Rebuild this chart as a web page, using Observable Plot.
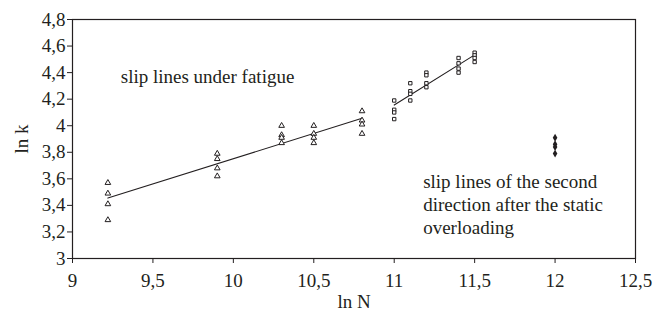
<!DOCTYPE html>
<html>
<head>
<meta charset="utf-8">
<script src="https://cdn.jsdelivr.net/npm/d3@7"></script>
<script src="https://cdn.jsdelivr.net/npm/@observablehq/plot@0.6"></script>
<style>
  html, body { margin: 0; padding: 0; background: #fff; }
</style>
</head>
<body>
<div id="chart"></div>
<script>
// Fatigue slip lines (triangles)
const triX = [9.22,9.22,9.22,9.22, 9.9,9.9,9.9,9.9, 10.3,10.3,10.3,10.3, 10.5,10.5,10.5,10.5, 10.8,10.8,10.8,10.8];
const triY = [3.57,3.49,3.41,3.29, 3.79,3.75,3.68,3.62, 4.00,3.93,3.91,3.87, 4.00,3.94,3.91,3.87, 4.11,4.04,4.01,3.94];
// Squares
const sqX = [11.0,11.0,11.0,11.0, 11.1,11.1,11.1,11.1, 11.2,11.2,11.2,11.2, 11.4,11.4,11.4,11.4, 11.5,11.5,11.5,11.5];
const sqY = [4.19,4.12,4.10,4.05, 4.32,4.26,4.24,4.19, 4.40,4.38,4.32,4.29, 4.51,4.47,4.43,4.40, 4.55,4.53,4.51,4.48];
// Second direction after static overloading (diamonds)
const diaX = [12, 12, 12, 12];
const diaY = [3.91, 3.86, 3.84, 3.79];
// Tick values
const xTicks = [9, 9.5, 10, 10.5, 11, 11.5, 12, 12.5];
const yTicks = [3, 3.2, 3.4, 3.6, 3.8, 4, 4.2, 4.4, 4.6, 4.8];
// Annotations
const noteText = ["slip lines under fatigue", "slip lines of the second\ndirection after the static\noverloading"];
const noteX = [9.30, 11.18];
const noteY = [4.38, 3.415];

const tri = triX.map((x, i) => ({x, y: triY[i]}));
const sq = sqX.map((x, i) => ({x, y: sqY[i]}));
const dia = diaX.map((x, i) => ({x, y: diaY[i]}));
const notes = noteText.map((t, i) => ({t, x: noteX[i], y: noteY[i]}));
const fmt = d => String(d).replace(".", ",");

const chart = Plot.plot({
  width: 654,
  height: 313,
  marginLeft: 72,
  marginRight: 19,
  marginTop: 19,
  marginBottom: 55,
  style: {fontFamily: "'Liberation Serif', 'DejaVu Serif', serif", fontSize: "19px", color: "#231f20", background: "#fff"},
  x: {domain: [9, 12.5]},
  y: {domain: [3, 4.8]},
  marks: [
    Plot.frame({stroke: "#231f20", strokeWidth: 1.2}),
    Plot.axisX({ticks: xTicks, tickFormat: fmt, tickSize: 5, tickPadding: 10, fontSize: 19,
      label: "ln N", labelAnchor: "center", labelArrow: "none", labelOffset: 49}),
    Plot.axisY({ticks: yTicks, tickFormat: fmt, tickSize: 5, tickPadding: 2, fontSize: 19,
      label: "ln k", labelAnchor: "center", labelArrow: "none", labelOffset: 58}),
    Plot.linearRegressionY(tri, {x: "x", y: "y", stroke: "#231f20", strokeWidth: 1.1, ci: 0}),
    Plot.linearRegressionY(sq, {x: "x", y: "y", stroke: "#231f20", strokeWidth: 1.1, ci: 0}),
    Plot.dot(tri, {x: "x", y: "y", symbol: "triangle", r: 2.1, stroke: "#231f20", fill: "white", strokeWidth: 1}),
    Plot.dot(sq, {x: "x", y: "y", symbol: "square", r: 1.9, stroke: "#231f20", fill: "white", strokeWidth: 1}),
    Plot.dot(dia, {x: "x", y: "y", symbol: "diamond", r: 2.4, fill: "#231f20", stroke: "none"}),
    Plot.text(notes, {x: "x", y: "y", text: "t", textAnchor: "start", fontSize: 19, lineHeight: 1.22, fill: "#231f20"})
  ]
});
document.getElementById("chart").appendChild(chart);
</script>
</body>
</html>
